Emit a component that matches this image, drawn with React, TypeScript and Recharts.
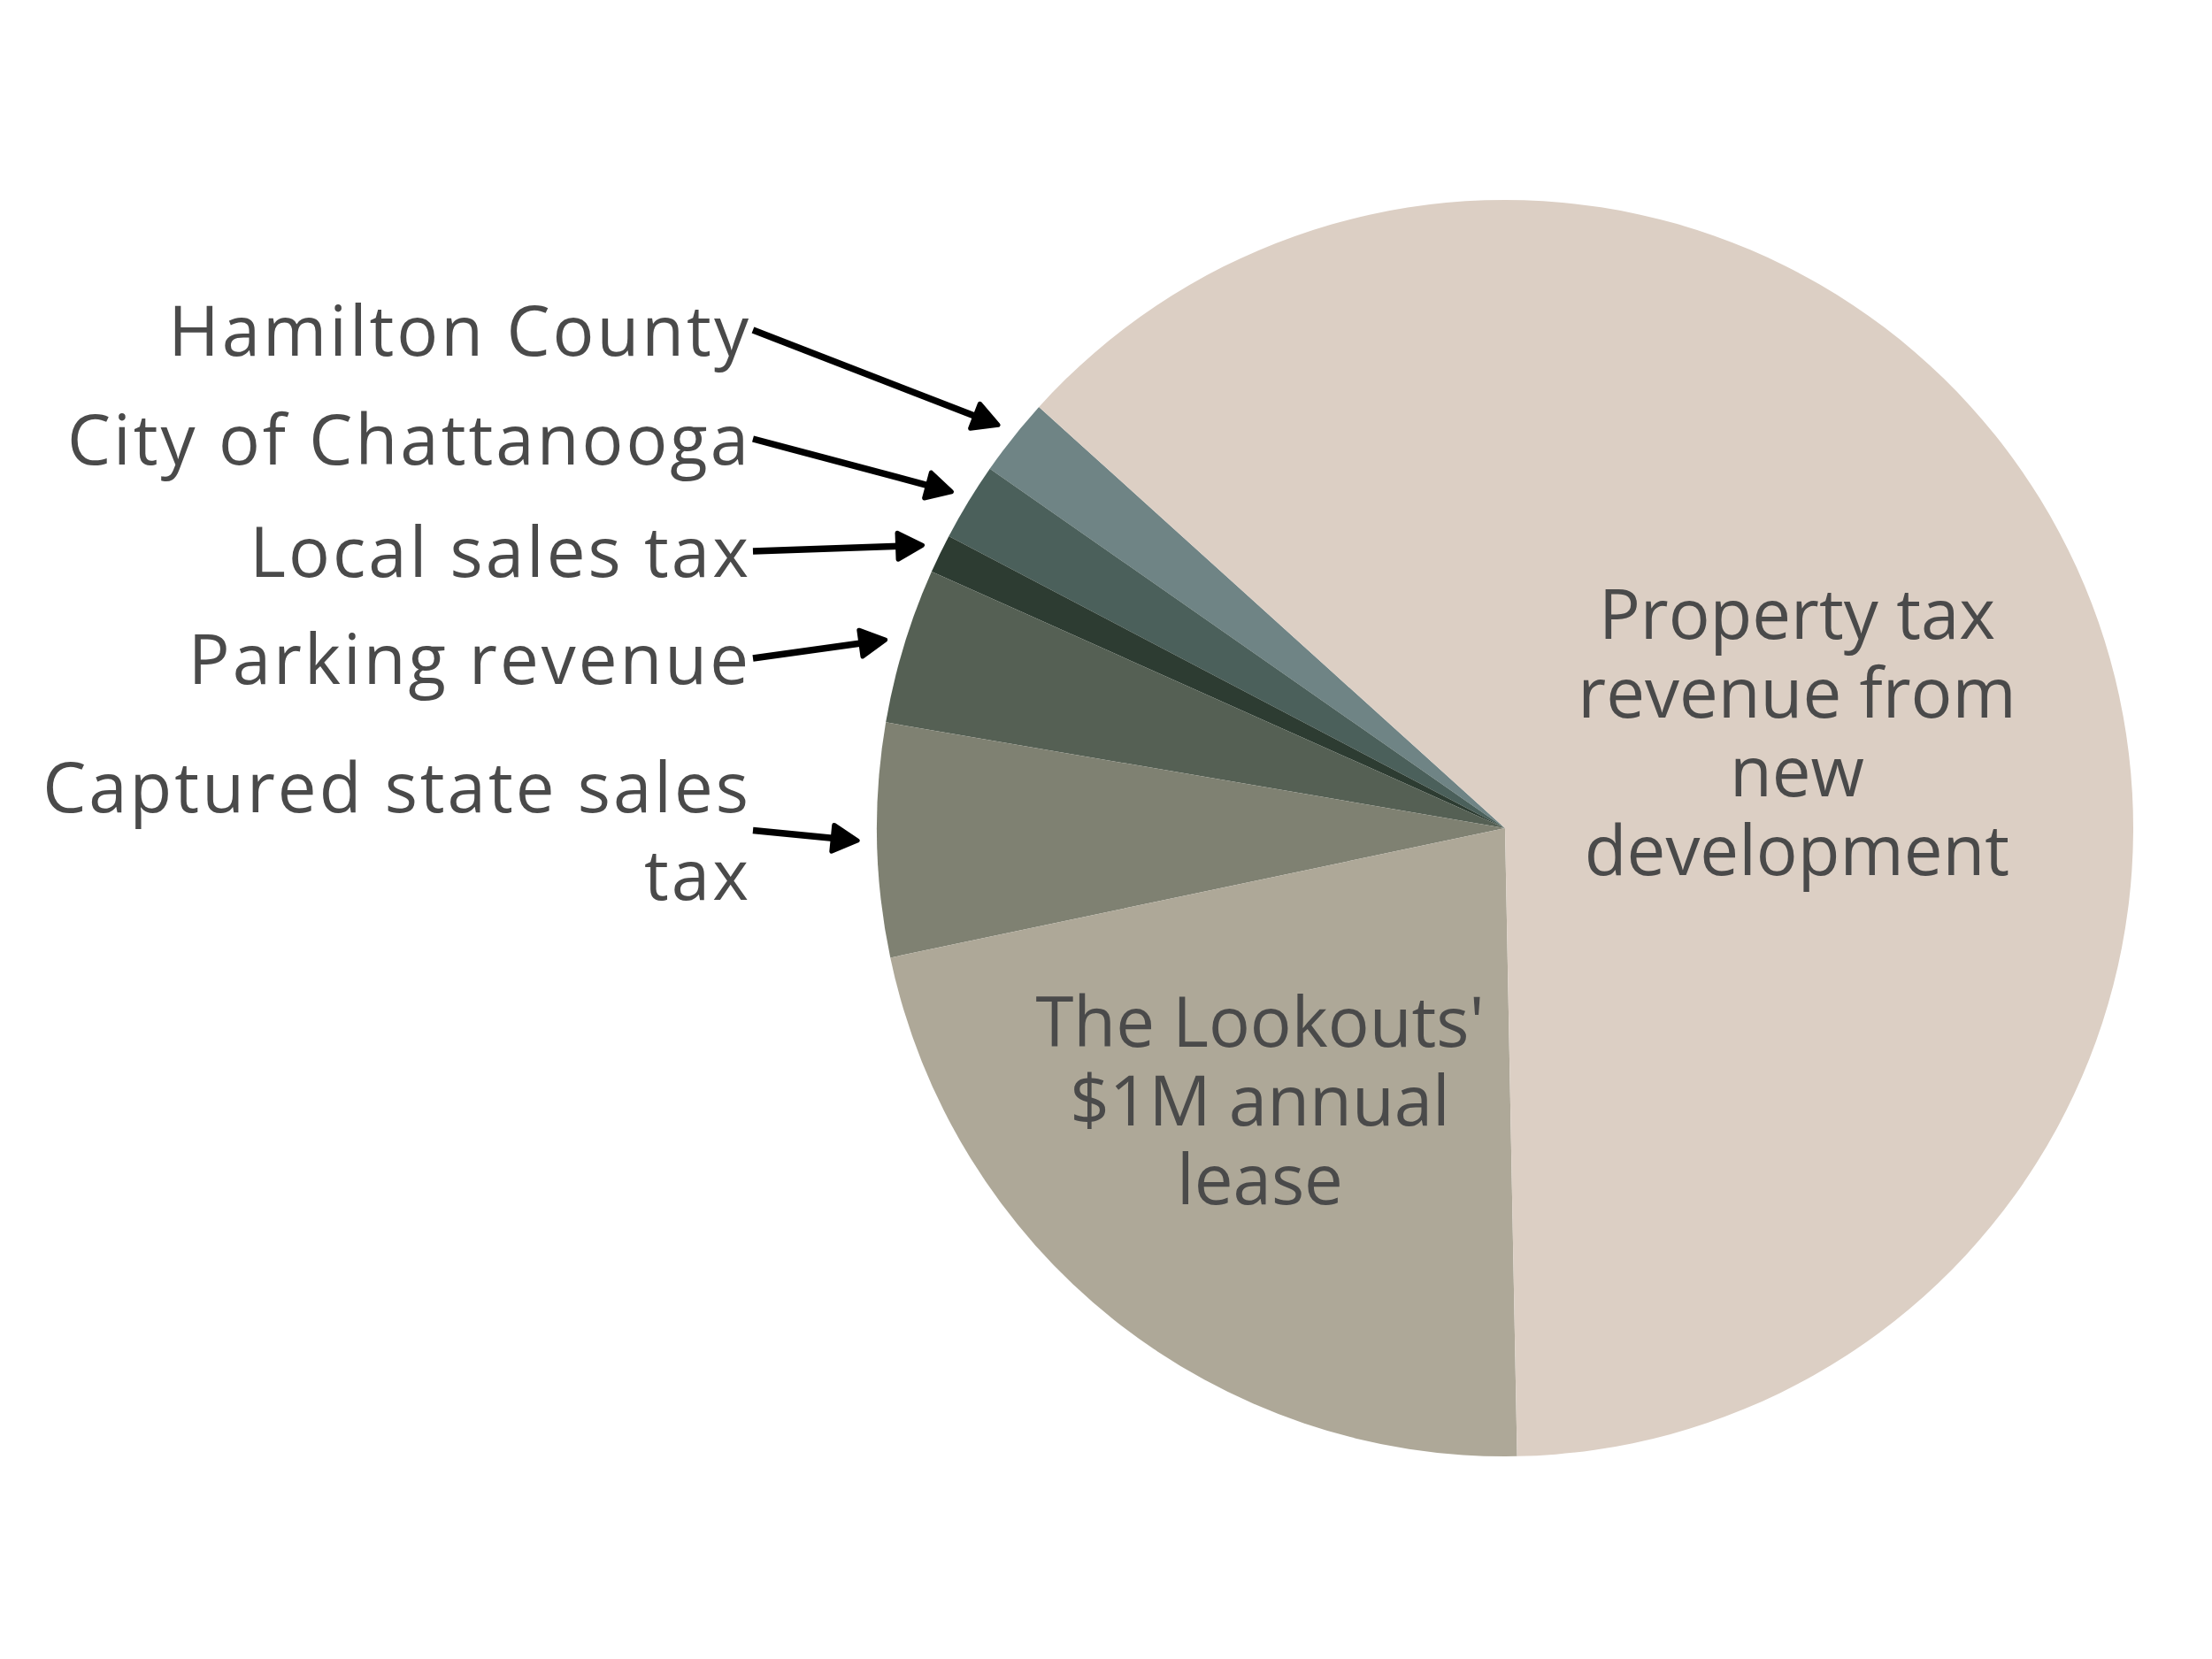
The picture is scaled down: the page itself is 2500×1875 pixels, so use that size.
import { PieChart, Pie, Cell } from "recharts";

const SLICE_NAMES = [
  "Hamilton County",
  "City of Chattanooga",
  "Local sales tax",
  "Parking revenue",
  "Captured state sales tax",
  "The Lookouts' $1M annual lease",
  "Property tax revenue from new development",
];

// share of the funding, in percent
const SLICE_VALUES = [2, 2, 1, 4, 6, 22, 63];

const SLICE_COLORS = [
  "#6f8485",
  "#4b605b",
  "#2d3c32",
  "#556054",
  "#7f8172",
  "#aea898",
  "#dccfc4",
];

const LABEL_LINES = [
  ["Hamilton County"],
  ["City of Chattanooga"],
  ["Local sales tax"],
  ["Parking revenue"],
  ["Captured state sales", "tax"],
  ["The Lookouts'", "$1M annual", "lease"],
  ["Property tax", "revenue from", "new", "development"],
];

const data = SLICE_NAMES.map((name, i) => ({
  name,
  value: SLICE_VALUES[i],
  lines: LABEL_LINES[i],
}));

const TEXT_COLOR = "#4a4a4a";
const FONT = "'Open Sans', 'Noto Sans', sans-serif";
const FONT_SIZE = 78;

// callouts on the left: right edge of text and first baseline of each label
const CALLOUT_RIGHT = 849;
const CALLOUT_BASELINES = [402, 525, 652, 773, 918];
const CALLOUT_GAP = 99;
// labels inside the big slices, offsets from the pie centre
const INSIDE_OFFSETS: Record<number, { dx: number; dy: number }> = {
  5: { dx: -277, dy: 247 },
  6: { dx: 330, dy: -214 },
};
const INSIDE_GAP = 89;

const RADIAN = Math.PI / 180;

const renderLabel = (props: any) => {
  const { cx, cy, midAngle, outerRadius, index } = props;
  const lines: string[] = data[index].lines;

  if (INSIDE_OFFSETS[index]) {
    const { dx, dy } = INSIDE_OFFSETS[index];
    return (
      <text
        key={`label-${index}`}
        x={cx + dx}
        y={cy + dy}
        textAnchor="middle"
        fill={TEXT_COLOR}
        fontFamily={FONT}
        fontSize={FONT_SIZE}
      >
        {lines.map((l, i) => (
          <tspan key={i} x={cx + dx} dy={i === 0 ? 0 : INSIDE_GAP}>
            {l}
          </tspan>
        ))}
      </text>
    );
  }

  const baseY = CALLOUT_BASELINES[index];
  const startY = baseY - 29 + ((lines.length - 1) * CALLOUT_GAP) / 2;
  const startX = CALLOUT_RIGHT + 2;
  const tipR = outerRadius + 22;
  const tipX = cx + tipR * Math.cos(-midAngle * RADIAN);
  const tipY = cy + tipR * Math.sin(-midAngle * RADIAN);

  const ang = Math.atan2(tipY - startY, tipX - startX);
  const headLen = 28;
  const headHalf = 15;
  const baseX = tipX - headLen * Math.cos(ang);
  const baseYh = tipY - headLen * Math.sin(ang);
  const px = -Math.sin(ang) * headHalf;
  const py = Math.cos(ang) * headHalf;

  return (
    <g key={`label-${index}`}>
      <text
        x={CALLOUT_RIGHT}
        y={baseY}
        textAnchor="end"
        fill={TEXT_COLOR}
        fontFamily={FONT}
        fontSize={FONT_SIZE}
        letterSpacing={3}
      >
        {lines.map((l, i) => (
          <tspan key={i} x={CALLOUT_RIGHT} dy={i === 0 ? 0 : CALLOUT_GAP}>
            {l}
          </tspan>
        ))}
      </text>
      <line
        x1={startX}
        y1={startY}
        x2={baseX + 2 * Math.cos(ang)}
        y2={baseYh + 2 * Math.sin(ang)}
        stroke="#000"
        strokeWidth={7.5}
      />
      <polygon
        points={`${tipX},${tipY} ${baseX + px},${baseYh + py} ${baseX - px},${baseYh - py}`}
        fill="#000"
        stroke="#000"
        strokeWidth={5}
        strokeLinejoin="round"
      />
    </g>
  );
};

export default function App() {
  return (
    <div style={{ position: "absolute", left: 0, top: 0, background: "#fff" }}>
      <PieChart
        width={2500}
        height={1875}
        margin={{ top: 0, right: 0, bottom: 0, left: 0 }}
      >
        <Pie
          data={data}
          dataKey="value"
          nameKey="name"
          cx={1701}
          cy={936}
          outerRadius={710}
          startAngle={137.9}
          endAngle={497.9}
          stroke="none"
          label={renderLabel}
          labelLine={false}
          isAnimationActive={false}
        >
          {data.map((entry, index) => (
            <Cell key={`cell-${index}`} fill={SLICE_COLORS[index]} />
          ))}
        </Pie>
      </PieChart>
    </div>
  );
}
